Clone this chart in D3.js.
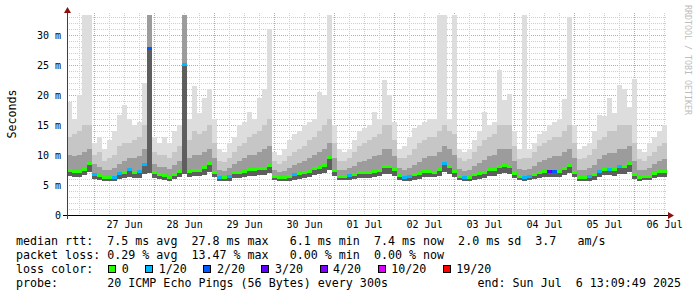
<!DOCTYPE html>
<html>
<head>
<meta charset="utf-8">
<script src="https://cdn.jsdelivr.net/npm/d3@7"></script>
<style>
  body { margin: 0; background: #fff; }
  svg text { font-family: "DejaVu Sans Mono", monospace; white-space: pre; }
</style>
</head>
<body>
<div id="chart"></div>
<script>
// Time window (2 hour bins)
const startTime = Date.UTC(2025, 5, 26, 13, 9, 49);
const endTime = Date.UTC(2025, 6, 6, 13, 9, 49);
const binMs = 2 * 3600 * 1000;

// median rtt per bin (ms)
const medianMs = [
  7.5, 7.4, 7.4, 7.7, 8.6, 6.8, 6.6, 6.4, 6.3, 6.4,
  7.0, 7.1, 7.6, 7.2, 7.3, 8.5, 27.8, 7.2, 6.9, 6.7,
  6.4, 6.9, 7.3, 25.2, 7.4, 7.5, 7.5, 8.0, 8.7, 7.2,
  6.4, 6.3, 6.5, 7.1, 7.2, 7.3, 7.6, 7.6, 7.8, 7.9,
  8.4, 6.5, 6.3, 6.3, 6.5, 6.8, 7.0, 7.2, 7.4, 7.8,
  8.0, 8.4, 9.6, 7.5, 6.5, 6.5, 6.6, 6.9, 7.1, 7.1,
  7.2, 7.4, 7.5, 8.1, 8.2, 7.6, 6.7, 6.4, 6.5, 6.8,
  7.0, 7.4, 7.4, 7.2, 7.6, 8.7, 8.1, 7.4, 6.5, 6.3,
  6.4, 6.8, 7.0, 7.2, 7.6, 7.6, 8.2, 8.3, 8.2, 7.0,
  6.5, 6.4, 6.5, 6.9, 7.2, 7.3, 7.4, 7.4, 7.3, 7.8,
  8.3, 7.2, 6.4, 6.4, 6.5, 6.8, 7.3, 7.7, 7.7, 7.6,
  8.1, 8.1, 8.6, 6.8, 6.4, 6.5, 6.5, 7.0, 7.3, 7.4
];

// lost pings out of 20 per bin
const lossCount = [
  0, 0, 0, 0, 0, 1, 0, 0, 0, 1,
  1, 0, 1, 0, 1, 1, 2, 0, 0, 0,
  0, 0, 0, 1, 0, 0, 0, 0, 0, 0,
  1, 0, 1, 0, 0, 0, 0, 0, 0, 0,
  0, 0, 0, 0, 0, 1, 0, 0, 0, 0,
  0, 0, 0, 0, 0, 0, 1, 0, 0, 0,
  0, 0, 0, 0, 0, 0, 0, 1, 1, 0,
  0, 0, 0, 0, 0, 1, 0, 0, 0, 1,
  0, 0, 0, 0, 0, 0, 0, 0, 0, 0,
  0, 1, 1, 0, 0, 0, 3, 2, 0, 0,
  0, 0, 0, 0, 1, 0, 1, 0, 1, 0,
  1, 0, 0, 0, 0, 0, 0, 0, 0, 0
];

// smoke: fastest ping, 75th / 90th percentile, slowest ping (ms)
const lowMs = [
  6.5, 6.4, 6.4, 6.6, 7.2, 6.0, 5.8, 5.7, 5.6, 5.7,
  6.0, 6.1, 6.3, 6.2, 6.2, 6.8, 7.0, 6.2, 6.0, 5.9,
  5.7, 6.0, 6.3, 6.8, 6.4, 6.5, 6.5, 6.7, 7.2, 6.3,
  5.7, 5.6, 5.7, 6.1, 6.2, 6.3, 6.5, 6.5, 6.6, 6.7,
  7.0, 5.8, 5.6, 5.6, 5.7, 5.9, 6.0, 6.2, 6.4, 6.6,
  6.8, 7.0, 7.5, 6.5, 5.8, 5.8, 5.8, 6.0, 6.1, 6.1,
  6.2, 6.4, 6.5, 6.8, 6.9, 6.5, 5.9, 5.7, 5.7, 5.9,
  6.0, 6.4, 6.4, 6.3, 6.5, 7.2, 6.9, 6.4, 5.8, 5.6,
  5.7, 5.9, 6.0, 6.2, 6.5, 6.5, 6.9, 7.0, 6.9, 6.1,
  5.8, 5.7, 5.8, 6.0, 6.2, 6.3, 6.4, 6.4, 6.4, 6.6,
  7.0, 6.3, 5.7, 5.7, 5.7, 5.9, 6.3, 6.6, 6.6, 6.5,
  6.9, 6.9, 7.2, 6.0, 5.7, 5.8, 5.8, 6.1, 6.3, 6.4
];
const p75Ms = [
  10, 9.8, 10, 10.5, 11, 8.5, 8, 7.5, 7.5, 7.8,
  8.5, 9, 9.5, 9.5, 9.8, 11, 33.3, 8.5, 8, 8,
  7.6, 8.3, 9, 33.3, 9.5, 10, 10, 10.5, 11, 9.5,
  7.5, 7.3, 7.8, 8.5, 9, 9.5, 10, 10, 10.5, 11,
  11.5, 7.5, 7.2, 7.3, 7.8, 8.3, 8.6, 9, 9.5, 10,
  10.5, 11, 12, 9.5, 7.5, 7.5, 7.8, 8.2, 8.8, 9,
  9.3, 9.8, 10, 11, 11, 9.8, 7.8, 7.5, 7.8, 8.3,
  8.8, 9.5, 9.8, 9.8, 10.5, 11.5, 11, 10, 7.6, 7.3,
  7.5, 8.2, 8.6, 9.2, 9.8, 10, 11, 11, 11, 9,
  7.6, 7.5, 7.6, 8.2, 8.8, 9.2, 9.5, 9.8, 9.8, 10.5,
  11, 9.5, 7.5, 7.5, 7.8, 8.3, 9.3, 10, 10.3, 10.3,
  11, 11, 11.5, 9, 7.5, 7.5, 7.8, 8.5, 9, 9.3
];
const p90Ms = [
  13, 13.5, 14, 15, 15, 10, 10.5, 9, 9.5, 10,
  11.5, 12, 12, 12.5, 13, 15, 33.3, 10.5, 10, 10,
  9.5, 10.5, 11.5, 33.3, 12.5, 14, 13.5, 14, 15, 12,
  9, 8.8, 9.5, 10.5, 11.5, 12, 13, 13.5, 14, 15,
  16, 9, 8.5, 9, 9.8, 10.5, 11, 11.5, 12.5, 13,
  14, 15, 16, 12, 9, 9, 9.5, 10.5, 11.5, 12,
  12.5, 13, 13.5, 15, 15, 12.5, 9.5, 9.5, 10, 11,
  12, 12.5, 13, 13, 14, 15, 14, 13.5, 9.5, 9,
  9.3, 10.5, 11.5, 12.5, 13, 13.5, 15, 15, 15, 11.5,
  9.3, 9.5, 9.5, 10.5, 11.5, 12, 12.5, 13, 13, 14,
  15, 12, 9.3, 9.5, 10, 11, 12.5, 13, 14, 14,
  15, 15, 15, 12, 9.3, 9, 9.8, 10.5, 11.5, 12
];
const topMs = [
  18.8, 16, 20, 33.3, 33.3, 12, 13, 11, 12.5, 14,
  16.7, 18.3, 16, 15, 15.5, 22, 33.3, 13, 12, 13,
  12, 14, 15, 33.3, 16, 21.5, 17, 19.5, 21, 16,
  11, 10.5, 12, 13, 15, 15.5, 17.2, 16, 19.5, 21,
  31, 10.5, 10, 11, 12.5, 13.5, 14, 15, 15.5, 16,
  20.5, 20, 33.3, 15, 11, 10.5, 11, 12.5, 14, 14.5,
  15, 17.2, 16, 22.5, 20, 15.5, 11, 11.5, 13, 14.5,
  15, 15.5, 16, 16, 33.3, 33.3, 16, 33.3, 11, 10.5,
  11, 12.5, 14, 17.2, 15, 15.5, 24.2, 19.2, 20.2, 14,
  11, 33.3, 11, 12, 13.5, 14, 15, 15.5, 16, 19.3,
  33, 15, 11, 11.5, 12, 14, 16.7, 16.5, 19.5, 17,
  21.7, 21, 18, 22.7, 11, 10.5, 12, 13, 14, 15
];

// axis ticks
const yTicks = [0, 5, 10, 15, 20, 25, 30];
const dayLabels = ["27 Jun", "28 Jun", "29 Jun", "30 Jun", "01 Jul", "02 Jul", "03 Jul", "04 Jul", "05 Jul", "06 Jul"];

// legend
const lossLevels = ["0", "1/20", "2/20", "3/20", "4/20", "10/20", "19/20"];
const lossColors = ["#26ff00", "#00b8ff", "#0059ff", "#5e00ff", "#7e00ff", "#dd00ff", "#ff0000"];
const legendRtt = "median rtt:  7.5 ms avg  27.8 ms max   6.1 ms min  7.4 ms now  2.0 ms sd  3.7   am/s";
const legendLoss = "packet loss: 0.29 % avg  13.47 % max   0.00 % min  0.00 % now";
const legendProbe = "probe:       20 ICMP Echo Pings (56 Bytes) every 300s";
const legendEnd = "end: Sun Jul  6 13:09:49 2025";

function lossColor(n) {
  if (n === 0) return lossColors[0];
  if (n === 1) return lossColors[1];
  if (n === 2) return lossColors[2];
  if (n === 3) return lossColors[3];
  if (n < 10) return lossColors[4];
  if (n < 19) return lossColors[5];
  return lossColors[6];
}

const W = 697, H = 297;
const svg = d3.select('#chart').append('svg')
  .attr('width', W).attr('height', H)
  .style('display', 'block');

svg.append('rect').attr('width', W).attr('height', H).attr('fill', '#fff');

const x = d3.scaleUtc().domain([new Date(startTime), new Date(endTime)]).range([67, 667]);
const y = d3.scaleLinear().domain([0, 100 / 3]).range([215, 15]);

const bins = medianMs.map((m, i) => ({
  t0: new Date(startTime + i * binMs),
  t1: new Date(startTime + (i + 1) * binMs),
  median: m, loss: lossCount[i],
  low: lowMs[i], p75: p75Ms[i], p90: p90Ms[i], top: topMs[i]
}));

// grid (drawn first, smoke covers it)
const grid = svg.append('g').attr('shape-rendering', 'crispEdges');
const msLines = d3.range(1, 34);
grid.selectAll('.hg').data(msLines).join('line')
  .attr('x1', 67).attr('x2', 667)
  .attr('y1', d => Math.round(y(d)) + 0.5).attr('y2', d => Math.round(y(d)) + 0.5)
  .attr('stroke', d => d % 5 === 0 ? '#e49a9a' : '#cfcfcf')
  .attr('stroke-dasharray', '1,1');
const hours6 = d3.utcHour.every(6).range(new Date(startTime), new Date(endTime));
grid.selectAll('.vg').data(hours6).join('line')
  .attr('y1', 13).attr('y2', 215)
  .attr('x1', d => Math.round(x(d)) + 0.5).attr('x2', d => Math.round(x(d)) + 0.5)
  .attr('stroke', d => d.getUTCHours() === 0 ? '#e49a9a' : '#cfcfcf')
  .attr('stroke-dasharray', '1,1');

// smoke bands, lightest first
const bands = [
  { hi: d => d.top, lo: d => d.low, color: '#dddddd' },
  { hi: d => d.p90, lo: d => d.low, color: '#c6c6c6' },
  { hi: d => d.p75, lo: d => d.low, color: '#9c9c9c' },
  { hi: d => d.median, lo: d => d.low, color: '#5e5e5e' }
];
const smoke = svg.append('g').attr('shape-rendering', 'crispEdges');
bands.forEach(b => {
  smoke.append('g').selectAll('rect').data(bins).join('rect')
    .attr('x', d => x(d.t0))
    .attr('width', d => x(d.t1) - x(d.t0))
    .attr('y', d => y(b.hi(d)))
    .attr('height', d => y(b.lo(d)) - y(b.hi(d)))
    .attr('fill', b.color);
});

// median with loss colour
svg.append('g').attr('shape-rendering', 'crispEdges')
  .selectAll('rect').data(bins).join('rect')
  .attr('x', d => x(d.t0))
  .attr('width', d => x(d.t1) - x(d.t0))
  .attr('y', d => Math.round(y(d.median)) - 1)
  .attr('height', 3)
  .attr('fill', d => lossColor(d.loss));

// axes
const yAxis = d3.axisLeft(y).tickValues(yTicks)
  .tickFormat(d => d === 0 ? '0' : d + ' m').tickSize(0).tickPadding(6);
const gy = svg.append('g').attr('transform', 'translate(67,0)').call(yAxis);
gy.select('.domain').remove();
gy.selectAll('text').attr('font-family', '"DejaVu Sans Mono", monospace')
  .attr('font-size', 10).attr('fill', '#000');

const noonDates = dayLabels.map((s, i) => new Date(Date.UTC(2025, 5, 27 + i, 12)));
const xAxis = d3.axisBottom(x).tickValues(noonDates)
  .tickFormat((d, i) => dayLabels[i]).tickSize(0).tickPadding(6);
const gx = svg.append('g').attr('transform', 'translate(0,215)').call(xAxis);
gx.select('.domain').remove();
gx.selectAll('text').attr('font-family', '"DejaVu Sans Mono", monospace')
  .attr('font-size', 10).attr('fill', '#000');

svg.append('line').attr('x1', 63).attr('x2', 669).attr('y1', 215.5).attr('y2', 215.5)
  .attr('stroke', '#000').attr('shape-rendering', 'crispEdges');
svg.append('line').attr('x1', 67.5).attr('x2', 67.5).attr('y1', 219).attr('y2', 11)
  .attr('stroke', '#404040').attr('shape-rendering', 'crispEdges');
svg.append('path').attr('d', 'M668,212 L674,215.5 L668,219 Z').attr('fill', '#8b1010');
svg.append('path').attr('d', 'M64,13 L67.5,7 L71,13 Z').attr('fill', '#8b1010');

// labels
svg.append('text').attr('transform', 'translate(16,114) rotate(-90)')
  .attr('text-anchor', 'middle').attr('font-size', 11.66).text('Seconds');
svg.append('text').attr('transform', 'translate(685,5) rotate(90)')
  .attr('font-size', 8.3).attr('fill', '#bdbdbd').text('RRDTOOL / TOBI OETIKER');

// legend
const lg = svg.append('g').attr('font-size', 11.66).attr('fill', '#000');
lg.append('text').attr('x', 16).attr('y', 244.5).text(legendRtt);
lg.append('text').attr('x', 16).attr('y', 258.7).text(legendLoss);
lg.append('text').attr('x', 16).attr('y', 272.8).text('loss color:');
let bx = 108.3;
lossLevels.forEach((lab, i) => {
  lg.append('rect').attr('x', Math.round(bx) + 0.5).attr('y', 265.5).attr('width', 7).attr('height', 7)
    .attr('fill', lossColors[i]).attr('stroke', '#000').attr('shape-rendering', 'crispEdges');
  lg.append('text').attr('x', bx + 13.5).attr('y', 272.8).text(lab);
  bx += 30 + 7.02 * lab.length;
});
lg.append('text').attr('x', 16).attr('y', 286.9).text(legendProbe);
lg.append('text').attr('x', 681).attr('y', 286.9).attr('text-anchor', 'end').text(legendEnd);
</script>
</body>
</html>
